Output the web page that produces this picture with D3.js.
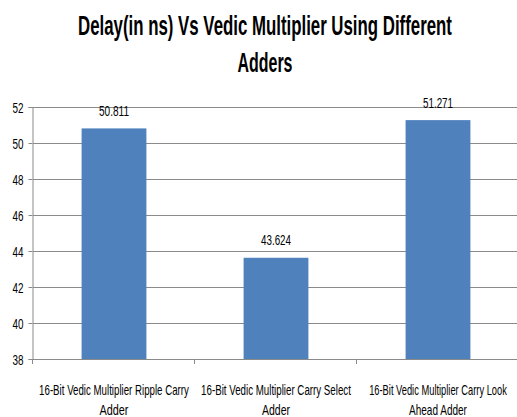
<!DOCTYPE html>
<html><head><meta charset="utf-8">
<script src="https://cdn.jsdelivr.net/npm/d3@7"></script>
<style>body{margin:0;background:#fff}svg{display:block}</style>
</head><body><svg id="c" width="517" height="417"></svg>
<script>
const categories = [
  ["16-Bit Vedic Multiplier  Ripple Carry", "Adder"],
  ["16-Bit Vedic Multiplier  Carry Select", "Adder"],
  ["16-Bit Vedic Multiplier  Carry Look", "Ahead Adder"]
];
const values = [50.811, 43.624, 51.271];
const valueLabels = ["50.811", "43.624", "51.271"];
const yTicks = [38, 40, 42, 44, 46, 48, 50, 52];
const titleLines = ["Delay(in ns) Vs Vedic Multiplier Using Different", "Adders"];

const catWidths = [[150, 29], [150, 28], [138, 58]];
const titleWidths = [374, 55];

const font = "'Liberation Sans','Arial',sans-serif";
const svg = d3.select("#c");
const L = 33, R = 519, T = 107, B = 359;
const x = d3.scaleBand().domain(d3.range(values.length)).range([L, R]).padding(0);
const y = d3.scaleLinear().domain([38, 52]).range([B, T]);
const grid = "#8a8a8a";

// squeeze a text horizontally to a target width, anchored at (cx, by)
function squeezed(parent, s, cx, by, w, size, weight) {
  const g = parent.append("g");
  const t = g.append("text").attr("text-anchor", "middle").attr("font-family", font)
    .attr("font-size", size).attr("font-weight", weight || "normal").attr("fill", "#000").text(s);
  const nat = t.node().getComputedTextLength();
  const k = w / nat;
  g.attr("transform", `translate(${cx},${by}) scale(${k},1)`);
  return g;
}

// gridlines
svg.append("g").selectAll("line").data(yTicks).join("line")
  .attr("x1", L).attr("x2", R).attr("y1", d => Math.round(y(d)) + 0.5).attr("y2", d => Math.round(y(d)) + 0.5)
  .attr("stroke", grid).attr("stroke-width", 1);

// y axis
const ya = svg.append("g").attr("transform", `translate(${L - 0.5},0)`)
  .call(d3.axisLeft(y).tickValues(yTicks).tickSize(4).tickPadding(5).tickFormat(d3.format("d")));
ya.select(".domain").attr("stroke", grid);
ya.selectAll(".tick line").attr("stroke", grid);
ya.selectAll(".tick text").attr("font-family", font).attr("font-size", 14).attr("fill", "#000")
  .attr("dy", "0.36em")
  .attr("textLength", 11).attr("lengthAdjust", "spacingAndGlyphs");

// x axis baseline & category ticks
svg.append("line").attr("x1", L).attr("x2", R).attr("y1", B + 0.5).attr("y2", B + 0.5).attr("stroke", grid);
const bounds = d3.range(values.length + 1).map(i => L + i * x.step());
svg.append("g").selectAll("line").data(bounds).join("line")
  .attr("x1", d => Math.round(d) - 0.5).attr("x2", d => Math.round(d) - 0.5)
  .attr("y1", B).attr("y2", B + 5).attr("stroke", grid);

// bars
const bw = x.bandwidth() * 0.4;
svg.append("g").selectAll("rect").data(values).join("rect")
  .attr("x", (d, i) => x(i) + (x.bandwidth() - bw) / 2)
  .attr("width", bw)
  .attr("y", d => y(d)).attr("height", d => B - y(d))
  .attr("fill", "#4F81BD");

// value labels
const vl = svg.append("g");
values.forEach((d, i) => squeezed(vl, valueLabels[i], x(i) + x.bandwidth() / 2, y(d) - 12.5, 30, 14));

// category labels
const cl = svg.append("g");
categories.forEach((lines, i) => {
  lines.forEach((s, j) => squeezed(cl, s, x(i) + x.bandwidth() / 2, 395 + j * 20, catWidths[i][j], 14));
});

// title
const tg = svg.append("g");
titleLines.forEach((s, i) => squeezed(tg, s, 265, 35 + i * 37, titleWidths[i], 27, "bold"));
</script></body></html>
